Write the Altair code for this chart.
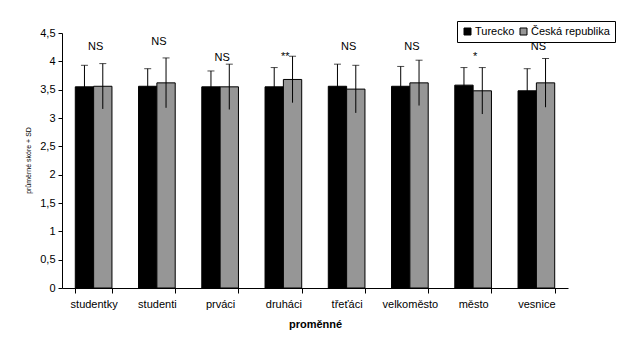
import altair as alt
import pandas as pd

categories = ["studentky", "studenti", "prváci", "druháci", "třeťáci", "velkoměsto", "město", "vesnice"]
series = ["Turecko", "Česká republika"]
turecko_mean = [3.55, 3.56, 3.55, 3.55, 3.56, 3.56, 3.58, 3.48]
turecko_sd = [0.38, 0.31, 0.28, 0.34, 0.39, 0.35, 0.31, 0.39]
cr_mean = [3.56, 3.62, 3.55, 3.68, 3.51, 3.62, 3.48, 3.62]
cr_sd = [0.40, 0.44, 0.40, 0.41, 0.42, 0.40, 0.41, 0.43]
sig_labels = ["NS", "NS", "NS", "**", "NS", "NS", "*", "NS"]
sig_level = [4.25, 4.34, 4.06, 4.08, 4.25, 4.25, 4.08, 4.25]
y_ticks = [0, 0.5, 1, 1.5, 2, 2.5, 3, 3.5, 4, 4.5]

rows = []
for i, c in enumerate(categories):
    rows.append({"cat": c, "ser": series[0], "mean": turecko_mean[i], "sd": turecko_sd[i]})
    rows.append({"cat": c, "ser": series[1], "mean": cr_mean[i], "sd": cr_sd[i]})
df = pd.DataFrame(rows)
df["lo"] = df["mean"] - df["sd"]
df["hi"] = df["mean"] + df["sd"]

lab = pd.DataFrame({"cat": categories, "txt": sig_labels, "lvl": sig_level})

FONT = "Liberation Sans"

xscale = alt.Scale(domain=categories, paddingInner=0.42, paddingOuter=0.21)
xax = alt.Axis(title="proměnné", labelAngle=0, tickBand="extent",
               labelFontSize=11, labelFont=FONT, labelColor="black",
               labelPadding=5, tickSize=5, tickColor="black",
               domainColor="black", titleFont=FONT, titleFontSize=11,
               titleFontWeight="bold", titleColor="black", titlePadding=9)
x = alt.X("cat:N", scale=xscale, sort=categories, axis=xax)
xoff = alt.XOffset("ser:N", scale=alt.Scale(domain=series, paddingInner=0, paddingOuter=0))
yscale = alt.Scale(domain=[0, 4.5], nice=False, zero=True)
yax = alt.Axis(title="průměrné skóre + SD", values=y_ticks, grid=False,
               labelExpr="replace(format(datum.value, '~g'), '.', ',')",
               labelFontSize=11, labelFont=FONT, labelColor="black",
               tickSize=4, tickColor="black", domainColor="black",
               labelPadding=3, titleFontSize=7, titleFont=FONT,
               titleFontWeight="normal", titleColor="black",
               titleX=-34, titleY=127, titleAlign="center",
               titleBaseline="middle", titleAngle=-90)

bars = alt.Chart(df).mark_bar(stroke="black", strokeWidth=1).encode(
    x=x, xOffset=xoff, y=alt.Y("mean:Q", scale=yscale, axis=yax),
    color=alt.Color("ser:N", scale=alt.Scale(domain=series, range=["#000000", "#969696"]),
                    sort=series,
                    legend=alt.Legend(title=None, orient="none", legendX=395, legendY=-12,
                                      direction="horizontal", symbolType="square",
                                      symbolSize=49, symbolStrokeColor="black",
                                      symbolStrokeWidth=1, strokeColor="black",
                                      fillColor="white", padding=5, labelFont=FONT,
                                      labelFontSize=11, labelColor="black",
                                      columnPadding=3, labelOffset=2)),
)

err = alt.Chart(df).mark_rule(color="black", strokeWidth=1).encode(
    x=x, xOffset=xoff,
    y=alt.Y("lo:Q", scale=yscale, axis=yax), y2="hi:Q",
)
caps = alt.Chart(df).mark_tick(color="black", size=7, thickness=1).encode(
    x=x, xOffset=xoff,
    y=alt.Y("hi:Q", scale=yscale, axis=yax),
)
texts = alt.Chart(lab).mark_text(font=FONT, fontSize=11, color="black", baseline="middle", dx=2).encode(
    x=x,
    y=alt.Y("lvl:Q", scale=yscale, axis=yax),
    text="txt:N",
)

chart = alt.layer(bars, err, caps, texts).properties(
    width=506, height=255,
    padding={"left": 62, "top": 33, "right": 52, "bottom": 51},
    autosize=alt.AutoSizeParams(type="none"),
    background="white",
).configure_view(strokeWidth=0)

chart.save("out.html", embed_options={"renderer": "svg", "actions": False})
